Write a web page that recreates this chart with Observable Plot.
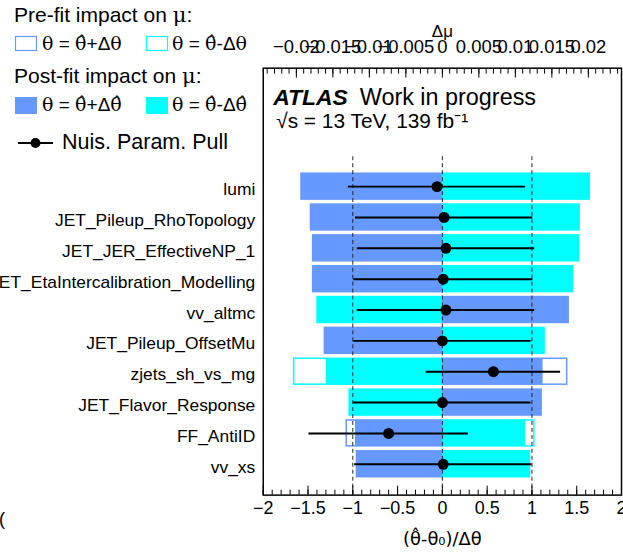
<!DOCTYPE html>
<html><head><meta charset="utf-8">
<script src="https://cdn.jsdelivr.net/npm/d3@7"></script>
<script src="https://cdn.jsdelivr.net/npm/@observablehq/plot@0.6"></script>
<style>
html,body{margin:0;padding:0;background:#fff;overflow:hidden;}
#wrap{position:relative;width:623px;height:554px;overflow:hidden;background:#fff;}
#legend{position:absolute;left:0;top:0;pointer-events:none;}
</style></head><body><div id="wrap"></div>
<script>
// ---- data (top row first) ----
const params = ["lumi","JET_Pileup_RhoTopology","JET_JER_EffectiveNP_1","JET_EtaIntercalibration_Modelling","vv_altmc","JET_Pileup_OffsetMu","zjets_sh_vs_mg","JET_Flavor_Response","FF_AntiID","vv_xs"];
const postUp   = [-0.0193,-0.0180,-0.0177,-0.0177, 0.0173,-0.0161, 0.0138, 0.0136,-0.0119,-0.0117];
const postDown = [ 0.0202, 0.0188, 0.0187, 0.0179,-0.0171, 0.0140,-0.0159,-0.0127, 0.0114, 0.0120];
const preUp    = [-0.0193,-0.0180,-0.0177,-0.0177, 0.0173,-0.0161, 0.0171, 0.0136,-0.0131,-0.0117];
const preDown  = [ 0.0202, 0.0188, 0.0187, 0.0179,-0.0171, 0.0140,-0.0203,-0.0127, 0.0126, 0.0120];
const pulls    = [-0.06, 0.02, 0.04, 0.01, 0.04, 0.00, 0.57, 0.00,-0.60, 0.01];
const pullErrs = [ 0.99, 0.99, 0.99, 1.00, 0.99, 0.99, 0.75, 0.99, 0.89, 0.99];
const pullTicks = [-2,-1.5,-1,-0.5,0,0.5,1,1.5,2];
const impactTicks = [-0.02,-0.015,-0.01,-0.005,0,0.005,0.01,0.015,0.02];
const refLines = [-1,0,1];
const impactPerPull = 0.01227; // top-axis (Δμ) units per bottom-axis unit

const BLUE = "#6699ff", CYAN = "#00ffff";
const FONT = "'Liberation Sans', Arial, Helvetica, sans-serif";
const n = params.length;
const rows = params.map((p,i)=>({name:p, k:n-1-i, pull:pulls[i], err:pullErrs[i]}));
const preBars = params.flatMap((p,i)=>[{k:n-1-i, v:preUp[i], side:"up"},{k:n-1-i, v:preDown[i], side:"down"}]);
const postBars = params.flatMap((p,i)=>[{k:n-1-i, v:postUp[i], side:"up"},{k:n-1-i, v:postDown[i], side:"down"}]);
const half = 0.42;
const minorPull = d3.range(-20,21).map(i=>i/10);
const minorImpact = d3.range(-24,25).map(i=>i/1000/impactPerPull);
const fmt = d => (d<0 ? "\u2212" : "") + String(Math.abs(+d.toFixed(3)));

const W = 626;
const chart = Plot.plot({
  width: W, height: 554,
  marginLeft: 264, marginRight: W-624, marginTop: 68, marginBottom: 57,
  style: {fontFamily: FONT, fontSize: "18px", background: "transparent", color: "#000"},
  x: {domain: [-2, 2]},
  y: {domain: [-1, 12.84], axis: null},
  color: {domain: ["up","down"], range: [BLUE, CYAN]},
  marks: [
    Plot.rect(preBars, {x1: 0, x2: d=>d.v/impactPerPull, y1: d=>d.k-half, y2: d=>d.k+half, fill: "white", stroke: "side", strokeWidth: 1.5}),
    Plot.rect(postBars, {x1: 0, x2: d=>d.v/impactPerPull, y1: d=>d.k-half, y2: d=>d.k+half, fill: "side"}),
    Plot.ruleX(refLines, {x: d=>d, y1: -1, y2: 10, stroke: "#222", strokeWidth: 1, strokeDasharray: "4,3"}),
    Plot.ruleY(rows, {y: "k", x1: d=>d.pull-d.err, x2: d=>d.pull+d.err, stroke: "black", strokeWidth: 2}),
    Plot.dot(rows, {x: "pull", y: "k", r: 5.5, fill: "black"}),
    Plot.text(rows, {y: "k", text: "name", frameAnchor: "left", dx: -8, dy: 3, textAnchor: "end", fontSize: 17.5}),
    // bottom axis
    Plot.axisX({anchor: "bottom", ticks: pullTicks, tickSize: -9, tickFormat: () => "", label: null}),
    Plot.axisX({anchor: "bottom", ticks: minorPull, tickSize: -5, tickFormat: () => "", label: null}),
    Plot.axisX({anchor: "bottom", ticks: pullTicks, tickSize: 0, tickPadding: 6, tickFormat: fmt, fontSize: 18, label: null}),
    // top axis (impact on mu)
    Plot.axisX({anchor: "top", ticks: impactTicks.map(t=>t/impactPerPull), tickSize: -9, tickFormat: () => "", label: null}),
    Plot.axisX({anchor: "top", ticks: minorImpact, tickSize: -5, tickFormat: () => "", label: null}),
    Plot.axisX({anchor: "top", ticks: impactTicks.map(t=>t/impactPerPull), tickSize: 0, tickPadding: 15, tickFormat: d => fmt(d*impactPerPull), fontSize: 18.5, label: null}),
    Plot.frame({stroke: "black", strokeWidth: 1.5}),
    Plot.text(["Δμ"], {text: d=>d, frameAnchor: "top", dy: -31, lineAnchor: "bottom", fontSize: 17}),
    Plot.text(["(θ\u0302-θ\u2080)/Δθ"], {text: d=>d, frameAnchor: "bottom", dy: 50, lineAnchor: "bottom", fontSize: 18, fontFamily: "'DejaVu Sans', sans-serif"}),
    Plot.text(["ATLAS"], {text: d=>d, frameAnchor: "top-left", dx: 10, dy: 37, lineAnchor: "bottom", textAnchor: "start", fontWeight: "bold", fontStyle: "italic", fontSize: 23}),
    Plot.text(["Work in progress"], {text: d=>d, frameAnchor: "top-left", dx: 97, dy: 37, lineAnchor: "bottom", textAnchor: "start", fontSize: 23.5}),
    Plot.text(["√s = 13 TeV, 139 fb\u207B\u00B9"], {text: d=>d, frameAnchor: "top-left", dx: 13, dy: 60, lineAnchor: "bottom", textAnchor: "start", fontSize: 21})
  ]
});
const wrap = document.getElementById("wrap");
wrap.appendChild(chart);

// legend overlay
const S = "font-family=\"'DejaVu Serif', serif\"";
const th = `<tspan ${S}>θ</tspan>`, thh = `<tspan ${S}>θ\u0302</tspan>`;
const legend = `
<svg id="legend" width="623" height="554" xmlns="http://www.w3.org/2000/svg" font-family="${FONT.replace(/'/g,"&apos;")}">
  <text x="14" y="22" font-size="21">Pre-fit impact on <tspan ${S}>μ</tspan>:</text>
  <rect x="15.5" y="36.5" width="21" height="14" fill="white" stroke="${BLUE}" stroke-width="1.2"/>
  <text x="42" y="50" font-size="19">${th} = ${thh}+Δ${th}</text>
  <rect x="146.5" y="36.5" width="21" height="14" fill="white" stroke="${CYAN}" stroke-width="1.2"/>
  <text x="172" y="50" font-size="19">${th} = ${thh}-Δ${th}</text>
  <text x="14" y="83" font-size="21">Post-fit impact on <tspan ${S}>μ</tspan>:</text>
  <rect x="15" y="97" width="22" height="17" fill="${BLUE}"/>
  <text x="42" y="111" font-size="19">${th} = ${thh}+Δ${thh}</text>
  <rect x="146" y="97" width="22" height="17" fill="${CYAN}"/>
  <text x="172" y="111" font-size="19">${th} = ${thh}-Δ${thh}</text>
  <line x1="18" x2="53" y1="143" y2="143" stroke="black" stroke-width="2"/>
  <circle cx="35.5" cy="143" r="5" fill="black"/>
  <text x="62" y="149" font-size="21.5">Nuis. Param. Pull</text>
  <text x="-1" y="525" font-size="18">(</text>
</svg>`;
wrap.insertAdjacentHTML("beforeend", legend);
</script></body></html>
